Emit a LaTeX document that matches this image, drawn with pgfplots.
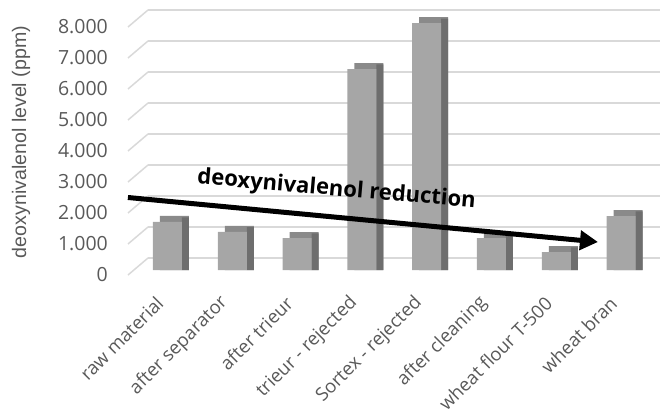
\documentclass[border=0pt]{standalone}
\usepackage{fontspec}
\setmainfont{Open Sans}
\newfontfamily\arialf{Liberation Sans}
\usepackage{pgfplots}
\pgfplotsset{compat=1.18}
\usepackage{pgfplotstable}
\usetikzlibrary{arrows.meta}
\definecolor{frontc}{HTML}{A6A6A6}
\definecolor{topc}{HTML}{8A8A8A}
\definecolor{sidec}{HTML}{6E6E6E}
\definecolor{gridc}{HTML}{D9D9D9}
\definecolor{txt}{HTML}{595959}

\pgfplotstableread{
x v
0 1550
1 1230
2 1030
3 6480
4 7960
5 1030
6 580
7 1740
}\data

\begin{document}
\begin{tikzpicture}
\useasboundingbox (0,0) rectangle (660pt,417pt);
\begin{axis}[
  at={(148pt,147pt)}, anchor=south west,
  scale only axis, width=512pt, height=248pt,
  xmin=-0.30, xmax=7.60, ymin=0, ymax=8000,
  clip=false,
  axis line style={draw=none},
  major tick length=0pt,
  scaled y ticks=false,
  ytick={0,1000,2000,3000,4000,5000,6000,7000,8000},
  ymajorgrids,
  major grid style={draw=gridc, line width=1.6pt, yshift=12pt},
  /pgf/number format/assume math mode=true,
  /pgf/number format/1000 sep={.},
  yticklabel style={font=\fontsize{19.5}{23}\selectfont, text=txt, inner sep=0pt, xshift=-40pt, yshift=-5pt},
  xtick={0,1,2,3,4,5,6,7},
  xticklabels={raw material, after separator, after trieur, trieur - rejected, Sortex - rejected, after cleaning, wheat flour T-500, wheat bran},
  xticklabel style={font=\fontsize{18.5}{22}\selectfont, text=txt, inner sep=0pt, anchor=east, xshift=-7.5pt, yshift=-30pt, rotate=45},
  ylabel={deoxynivalenol level (ppm)},
  every axis y label/.style={at={(axis description cs:0,0.516)}, xshift=-127pt, rotate=90, anchor=center, font=\arialf\fontsize{19.6}{23}\selectfont, text=txt},
]
\pgfplotsinvokeforeach{0,1000,2000,3000,4000,5000,6000,7000,8000}{
  \draw[gridc, line width=1.5pt] (axis cs:-0.30,#1) ++(0pt,12pt) -- ++(-20pt,-17pt);
}
\addplot[ybar, bar width=29pt, bar shift=7pt, fill=topc, draw=none] table[x=x, y expr=\thisrow{v}+194] {\data};
\addplot[ybar, bar width=7pt, bar shift=18pt, fill=sidec, draw=none] table[x=x, y expr=\thisrow{v}+150] {\data};
\addplot[ybar, bar width=29pt, bar shift=0pt, fill=frontc, draw=none] table[x=x, y=v] {\data};
\addplot[black, line width=5pt, -{Triangle[length=18pt,width=19pt]}] coordinates {(-0.61,2339) (6.643,903)};
\node[rotate=-5, font=\bfseries\fontsize{22}{26}\selectfont, inner sep=0pt] at (axis cs:2.608,2581) {deoxynivalenol reduction};
\end{axis}
\end{tikzpicture}
\end{document}
